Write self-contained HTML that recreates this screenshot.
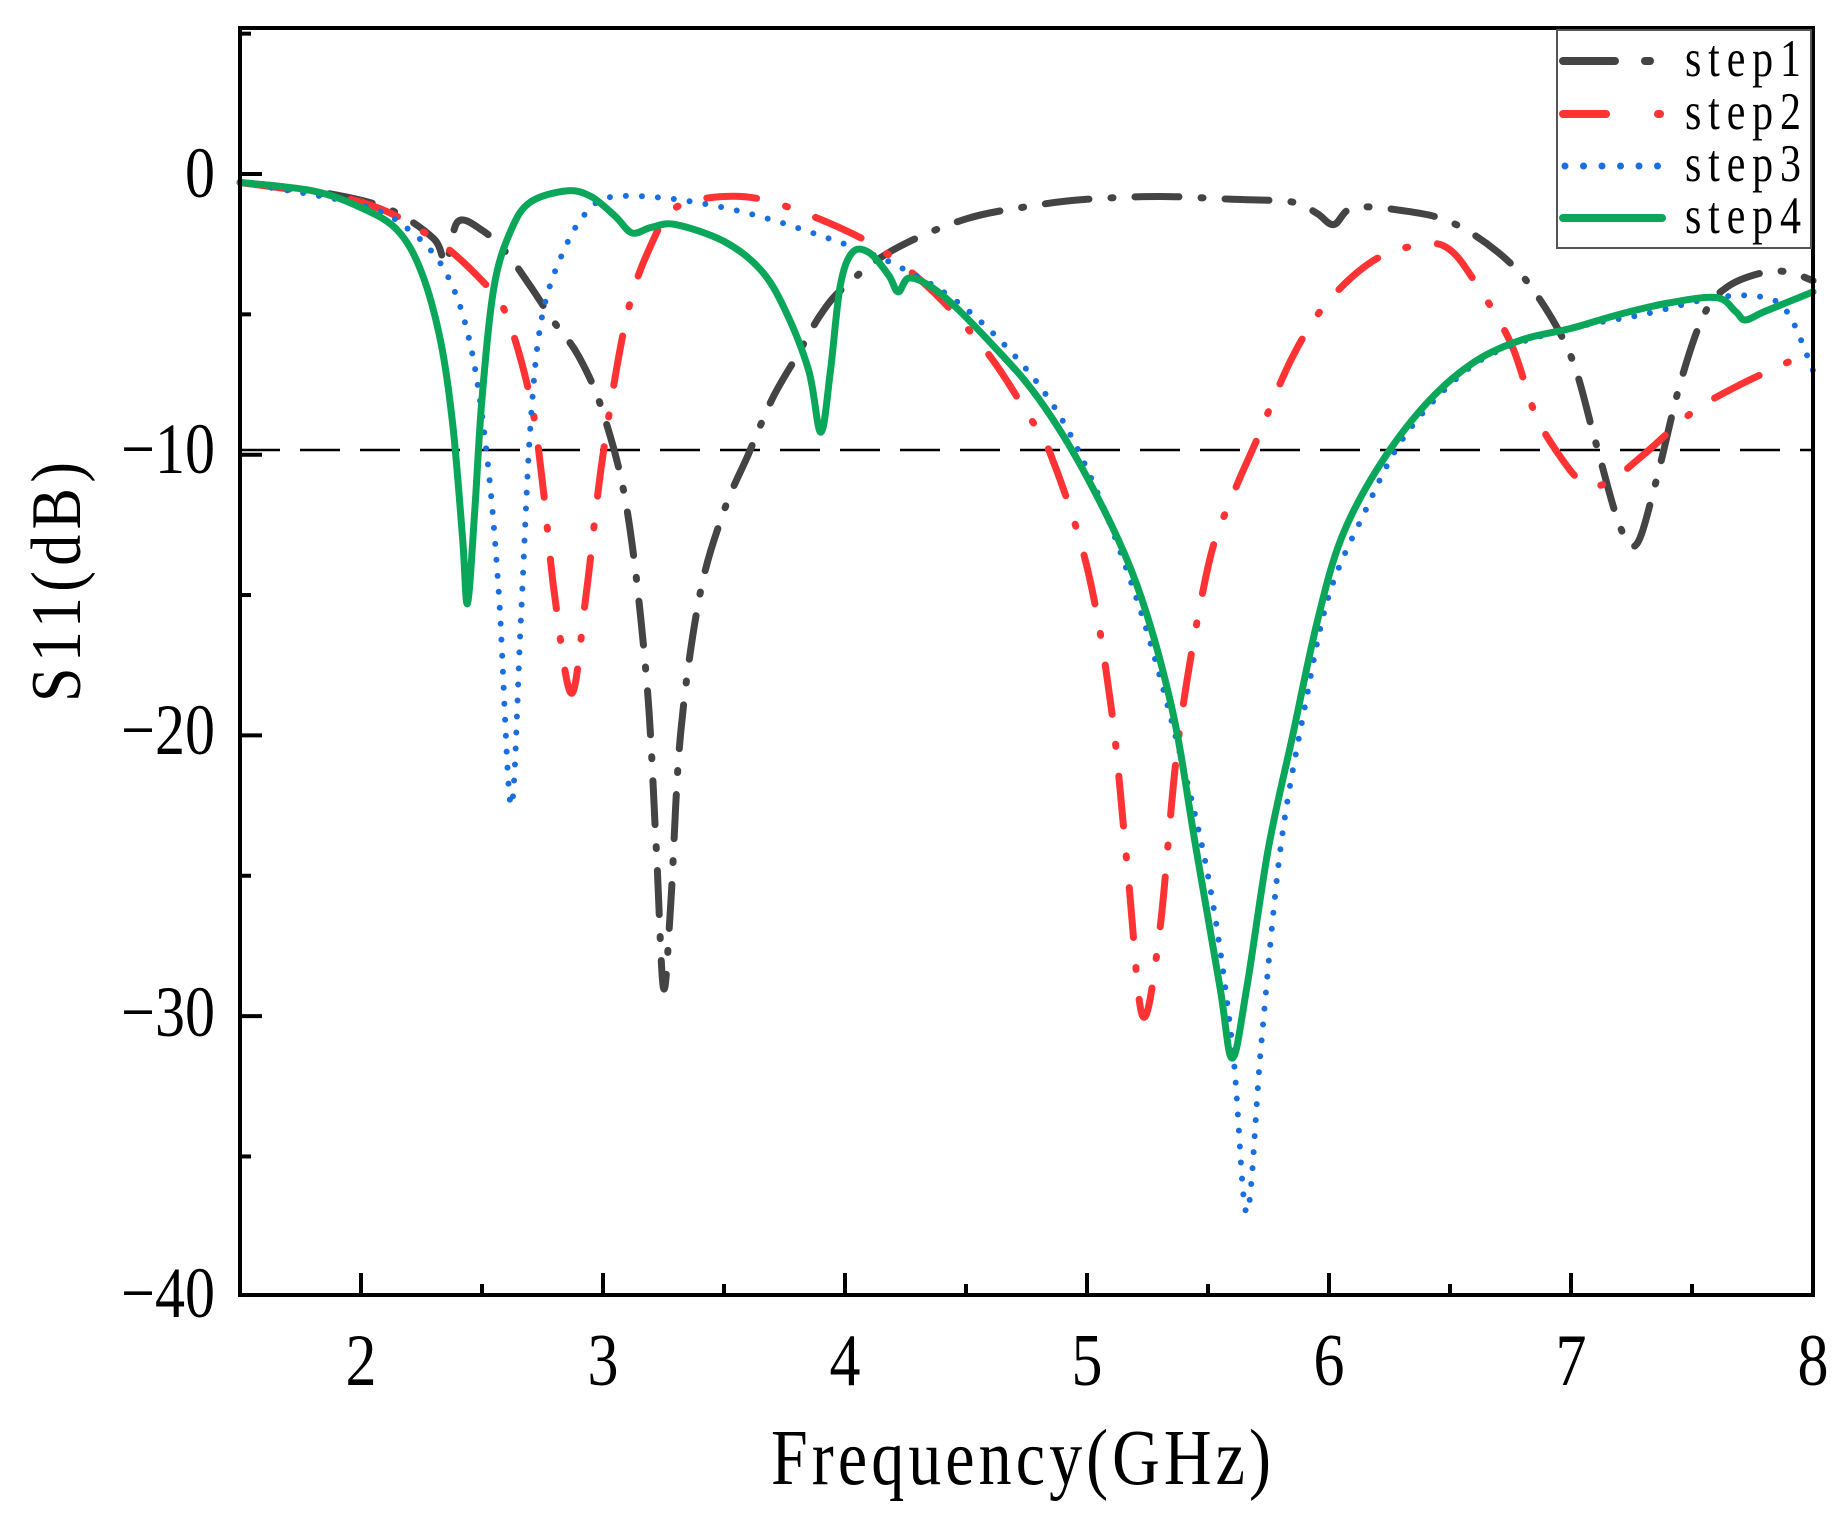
<!DOCTYPE html>
<html><head><meta charset="utf-8"><style>
html,body{margin:0;padding:0;background:#fff}
svg text{font-family:"Liberation Serif",serif;fill:#000}
</style></head><body>
<svg id="s" width="1844" height="1513" viewBox="0 0 1844 1513" xmlns="http://www.w3.org/2000/svg">
<rect width="1844" height="1513" fill="#fff"/>
<g id="ticks" stroke="#000" stroke-width="4"></g>
<line x1="240" y1="450" x2="1813" y2="450" stroke="#000" stroke-width="2.5" stroke-dasharray="40,20"/>
<g id="curves" fill="none" stroke-linejoin="round"></g>
<rect x="240" y="28" width="1573" height="1267" fill="none" stroke="#000" stroke-width="4"/>
<rect x="1557" y="30" width="254" height="218" fill="#fff" stroke="#555" stroke-width="2"/>
<line x1="1563" y1="61" x2="1615" y2="61" stroke="#444" stroke-width="8" stroke-linecap="round"/>
<line x1="1645" y1="61" x2="1650" y2="61" stroke="#444" stroke-width="8" stroke-linecap="round"/>
<line x1="1563" y1="114" x2="1606" y2="114" stroke="#ff3333" stroke-width="8" stroke-linecap="round"/>
<line x1="1658" y1="114" x2="1660" y2="114" stroke="#ff3333" stroke-width="8" stroke-linecap="round"/>
<line x1="1565" y1="166" x2="1660" y2="166" stroke="#1a6fe0" stroke-width="7" stroke-linecap="round" stroke-dasharray="0,18.5"/>
<line x1="1563" y1="218" x2="1662" y2="218" stroke="#0aa65a" stroke-width="8" stroke-linecap="round"/>
<g font-size="42">
<text transform="translate(1685,76) scale(1,1.25)" textLength="116">step1</text>
<text transform="translate(1685,129) scale(1,1.25)" textLength="116">step2</text>
<text transform="translate(1685,181) scale(1,1.25)" textLength="116">step3</text>
<text transform="translate(1685,233) scale(1,1.25)" textLength="116">step4</text>
</g>
<g font-size="60" text-anchor="end">
<text transform="translate(215,197) scale(1,1.2)">0</text>
<text transform="translate(215,473) scale(1,1.2)">−10</text>
<text transform="translate(215,754) scale(1,1.2)">−20</text>
<text transform="translate(215,1036) scale(1,1.2)">−30</text>
<text transform="translate(215,1317) scale(1,1.2)">−40</text>
</g>
<g font-size="62" text-anchor="middle">
<text transform="translate(361,1385) scale(1,1.2)">2</text>
<text transform="translate(603,1385) scale(1,1.2)">3</text>
<text transform="translate(845,1385) scale(1,1.2)">4</text>
<text transform="translate(1087,1385) scale(1,1.2)">5</text>
<text transform="translate(1329,1385) scale(1,1.2)">6</text>
<text transform="translate(1571,1385) scale(1,1.2)">7</text>
<text transform="translate(1813,1385) scale(1,1.2)">8</text>
</g>
<text transform="translate(1021,1484) scale(1,1.2)" font-size="66" text-anchor="middle" textLength="500">Frequency(GHz)</text>
<text transform="translate(80,582) rotate(-90) scale(1,1.15)" font-size="62" text-anchor="middle" textLength="240">S11(dB)</text>
</svg>
<script>
var X=f=>240+(f-1.5)*242, Y=d=>174-d*28.07;
var NS="http://www.w3.org/2000/svg";
var tg=document.getElementById('ticks');
function ln(x1,y1,x2,y2){var l=document.createElementNS(NS,'line');l.setAttribute('x1',x1);l.setAttribute('y1',y1);l.setAttribute('x2',x2);l.setAttribute('y2',y2);tg.appendChild(l);}
for(var f=2;f<=7.51;f+=0.5){var maj=Math.abs(f-Math.round(f))<0.01;ln(X(f),1295,X(f),1295-(maj?22:11));}
for(var d=5;d>=-35;d-=5){var maj=d%10==0;ln(240,Y(d),240+(maj?22:11),Y(d));}
var S={
s1:[[1.5,-0.3],[1.8,-0.6],[2.1,-1.2],[2.3,-2.3],[2.35,-3.2],[2.4,-1.7],[2.5,-2],[2.6,-2.8],[2.7,-4],[2.8,-5.3],[2.9,-6.5],[3.0,-8.5],[3.1,-12],[3.18,-18],[3.22,-24],[3.25,-29],[3.28,-26],[3.32,-20],[3.4,-15],[3.5,-12],[3.6,-10],[3.7,-8],[3.8,-6.5],[3.9,-5],[4.0,-4],[4.2,-2.7],[4.5,-1.6],[4.8,-1.1],[5.0,-0.9],[5.3,-0.8],[5.6,-0.9],[5.85,-1],[5.95,-1.4],[6.02,-1.8],[6.1,-1.2],[6.3,-1.3],[6.5,-1.7],[6.7,-2.8],[6.85,-4.2],[7.0,-6.5],[7.1,-9.5],[7.2,-12.5],[7.27,-13.2],[7.35,-11],[7.45,-7.5],[7.55,-5],[7.65,-4],[7.8,-3.5],[7.9,-3.5],[8,-3.8]],
s2:[[1.5,-0.3],[2.0,-1],[2.3,-2.3],[2.5,-3.8],[2.6,-5],[2.7,-8],[2.75,-11],[2.8,-15],[2.87,-18.5],[2.93,-15],[3.0,-10],[3.1,-5],[3.2,-2.5],[3.3,-1.2],[3.5,-0.8],[3.7,-1],[4.0,-2],[4.2,-3],[4.4,-4.5],[4.6,-6.5],[4.75,-8.5],[4.85,-10],[5.0,-14],[5.1,-19],[5.17,-25],[5.23,-30],[5.3,-27],[5.38,-20],[5.5,-14],[5.6,-11.5],[5.7,-9.5],[5.85,-6.5],[6.0,-4.5],[6.2,-3],[6.4,-2.5],[6.5,-2.7],[6.6,-3.8],[6.75,-6],[6.85,-8.5],[6.95,-10],[7.05,-11],[7.15,-11],[7.3,-10],[7.5,-8.5],[7.7,-7.5],[8,-6.3]],
s3:[[1.5,-0.3],[2.0,-1.1],[2.2,-2],[2.35,-3.5],[2.45,-6],[2.52,-10],[2.57,-15],[2.62,-22.5],[2.66,-16],[2.7,-9],[2.75,-5],[2.85,-2.5],[2.95,-1.2],[3.05,-0.8],[3.3,-0.9],[3.6,-1.4],[3.9,-2.2],[4.2,-3.2],[4.5,-4.8],[4.8,-7.5],[5.0,-10.5],[5.2,-15],[5.35,-19.5],[5.5,-25],[5.6,-31],[5.66,-37],[5.72,-31],[5.8,-24],[5.9,-19],[6.0,-15],[6.15,-12],[6.3,-9.5],[6.5,-7.5],[6.7,-6.3],[7.0,-5.5],[7.3,-5],[7.6,-4.4],[7.8,-4.4],[7.9,-5],[8,-7]],
s4:[[1.5,-0.3],[1.8,-0.6],[2.0,-1.2],[2.15,-2],[2.25,-3.5],[2.33,-6],[2.38,-9],[2.42,-13],[2.44,-15.3],[2.47,-12],[2.5,-8],[2.55,-4],[2.62,-2],[2.7,-1],[2.85,-0.6],[2.95,-0.8],[3.05,-1.5],[3.12,-2.1],[3.2,-1.9],[3.3,-1.8],[3.5,-2.4],[3.65,-3.4],[3.75,-4.8],[3.85,-7],[3.9,-9.2],[3.94,-7],[3.98,-4],[4.03,-2.8],[4.1,-2.8],[4.18,-3.6],[4.22,-4.2],[4.27,-3.7],[4.4,-4.3],[4.6,-6],[4.8,-8],[5.0,-10.8],[5.2,-14.5],[5.35,-19],[5.45,-24],[5.55,-29],[5.6,-31.5],[5.66,-29],[5.75,-24],[5.85,-20],[5.95,-16],[6.05,-13],[6.2,-10.5],[6.4,-8.2],[6.6,-6.7],[6.8,-5.9],[7.0,-5.5],[7.2,-5],[7.4,-4.6],[7.6,-4.4],[7.68,-4.9],[7.72,-5.2],[7.8,-4.9],[8,-4.2]]};
function path(p){var q=p.map(a=>[X(a[0]),Y(a[1])]);var d='M'+q[0][0]+','+q[0][1];
for(var i=0;i<q.length-1;i++){var p0=q[Math.max(i-1,0)],p1=q[i],p2=q[i+1],p3=q[Math.min(i+2,q.length-1)];
d+=' C'+(p1[0]+(p2[0]-p0[0])/6)+','+(p1[1]+(p2[1]-p0[1])/6)+' '+(p2[0]-(p3[0]-p1[0])/6)+','+(p2[1]-(p3[1]-p1[1])/6)+' '+p2[0]+','+p2[1];}return d;}
var st={s1:['#444','44,22,2,22','round',7],s2:['#ff3333','50,30,2,30','round',7],s3:['#1a6fe0','0,16','round',6],s4:['#0aa65a','','round',7]};
var cg=document.getElementById('curves');
['s1','s2','s3','s4'].forEach(k=>{var e=document.createElementNS(NS,'path');e.setAttribute('d',path(S[k]));e.setAttribute('stroke',st[k][0]);if(st[k][1])e.setAttribute('stroke-dasharray',st[k][1]);e.setAttribute('stroke-linecap',st[k][2]);e.setAttribute('stroke-width',st[k][3]);cg.appendChild(e);});
</script>
</body></html>
